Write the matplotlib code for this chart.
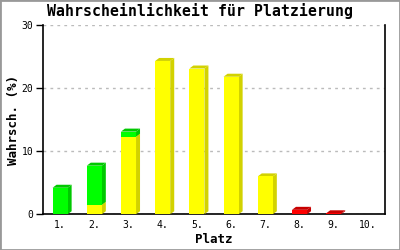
import matplotlib
matplotlib.use('Agg')
import matplotlib.pyplot as plt
from matplotlib.patches import Polygon

plt.rcParams['font.family'] = ['DejaVu Sans Mono']

platz = ['1.', '2.', '3.', '4.', '5.', '6.', '7.', '8.', '9.', '10.']
gelb = [0, 1.5, 12.3, 24.3, 23.1, 21.8, 6.0, 0, 0, 0]
gruen = [4.2, 6.2, 0.8, 0, 0, 0, 0, 0, 0, 0]
rot = [0, 0, 0, 0, 0, 0, 0, 0.7, 0.15, 0]

farben = [('#ffff00', '#d2d200', gelb),
          ('#00ff00', '#00c800', gruen),
          ('#ff0000', '#c80000', rot)]

fig = plt.figure(figsize=(4, 2.5), dpi=100)
fig.patches.append(plt.Rectangle((0, 0), 1, 1, transform=fig.transFigure,
                                 fill=False, edgecolor='#999999', linewidth=2))
ax = fig.add_axes([0.1075, 0.143, 0.855, 0.757])

breite = 0.44
dx = 4 / 34.2
dy = 3 / 6.3

unten = [0.0] * len(platz)
for front, seite, werte in farben:
    for i, v in enumerate(werte):
        if v <= 0:
            continue
        y0 = unten[i]
        y1 = y0 + v
        x0 = i - breite / 2
        x1 = i + breite / 2
        ax.add_patch(Polygon([(x1, y0), (x1 + dx, y0 + dy), (x1 + dx, y1 + dy), (x1, y1)],
                             closed=True, facecolor=seite, edgecolor='none', zorder=3))
        ax.add_patch(Polygon([(x0, y1), (x0 + dx, y1 + dy), (x1 + dx, y1 + dy), (x1, y1)],
                             closed=True, facecolor=seite, edgecolor='none', zorder=3))
        ax.bar(i, v, bottom=y0, width=breite, color=front, linewidth=0, zorder=4)
        unten[i] = y1

ax.set_xlim(-0.5, 9.5)
ax.set_ylim(0, 30)
ax.set_yticks([0, 10, 20, 30])
ax.set_xticks(range(len(platz)))
ax.set_xticklabels(platz)
ax.tick_params(axis='x', length=0, labelsize=7, pad=4)
ax.tick_params(axis='y', length=5, width=1, labelsize=7, pad=2, direction='out')
ax.yaxis.grid(True, color='#bbbbbb', linestyle=(0, (2, 3)), linewidth=1)
ax.set_axisbelow(True)
ax.spines['top'].set_visible(False)
for s in ['left', 'right', 'bottom']:
    ax.spines[s].set_color('black')
    ax.spines[s].set_linewidth(1.2)

fig.text(0.5, 0.925, 'Wahrscheinlichkeit für Platzierung', fontsize=10.7,
         fontweight='bold', ha='center', va='bottom')
ax.set_xlabel('Platz', fontsize=9, fontweight='bold', labelpad=2)
ax.set_ylabel('Wahrsch. (%)', fontsize=9, fontweight='bold')
ax.yaxis.set_label_coords(-0.068, 0.5)

fig.savefig('out.png', dpi=100)
